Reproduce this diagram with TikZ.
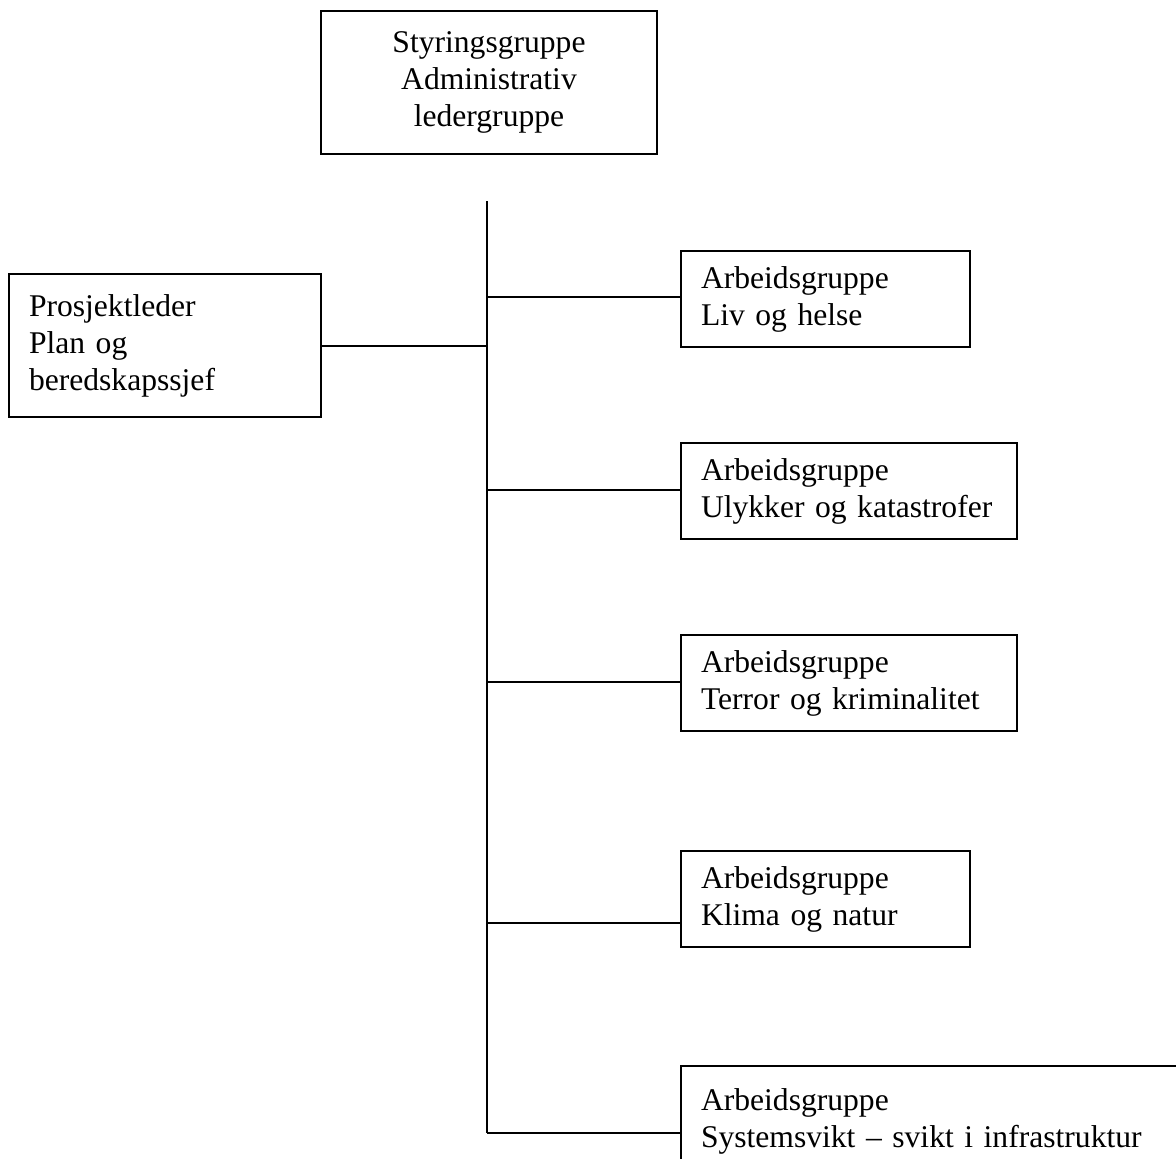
\documentclass[tikz,border=0pt]{standalone}
\usepackage{fontspec}
\setmainfont{Liberation Serif}
\begin{document}
\begin{tikzpicture}[x=1pt,y=-1pt,
  every node/.style={font=\fontsize{31.6}{37}\selectfont},
  box/.style={draw, line width=2pt, anchor=north west, inner ysep=0pt},
  lbox/.style={box, align=left, inner xsep=20pt},
  conn/.style={line width=2pt}]
\useasboundingbox (0,0) rectangle (1176,1159);
\clip (0,0) rectangle (1176,1159);
% top box
\node[box, align=center, minimum width=336pt, minimum height=143pt, text width=300pt] (top) at (320,10)
  {Styringsgruppe\\Administrativ\\ledergruppe};
% left box
\node[lbox, minimum width=312pt, minimum height=143pt, text width=272pt] (pl) at (8,273)
  {Prosjektleder\\Plan og\\beredskapssjef};
% right boxes
\node[lbox, minimum width=289pt, minimum height=96pt, text width=249pt] (b1) at (680,250)
  {Arbeidsgruppe\\Liv og helse};
\node[lbox, minimum width=336pt, minimum height=96pt, text width=296pt] (b2) at (680,442)
  {Arbeidsgruppe\\Ulykker og katastrofer};
\node[lbox, minimum width=336pt, minimum height=96pt, text width=296pt] (b3) at (680,634)
  {Arbeidsgruppe\\Terror og kriminalitet};
\node[lbox, minimum width=289pt, minimum height=96pt, text width=249pt] (b4) at (680,850)
  {Arbeidsgruppe\\Klima og natur};
\node[lbox, minimum width=520pt, minimum height=110pt, text width=480pt] (b5) at (680,1065)
  {Arbeidsgruppe\\Systemsvikt -- svikt i infrastruktur};
% spine
\coordinate (st) at (487,201);
\coordinate (sb) at (487,1133);
\draw[conn] (st) -- (sb);
\coordinate (j1) at (487,297);
\coordinate (jl) at (487,346);
\coordinate (j2) at (487,490);
\coordinate (j3) at (487,682);
\coordinate (j4) at (487,923);
\draw[conn] (j1) -- (j1 -| b1.west);
\draw[conn] (jl) -- (jl -| pl.east);
\draw[conn] (j2) -- (j2 -| b2.west);
\draw[conn] (j3) -- (j3 -| b3.west);
\draw[conn] (j4) -- (j4 -| b4.west);
\draw[conn] (sb) -- (sb -| b5.west);
\end{tikzpicture}
\end{document}
